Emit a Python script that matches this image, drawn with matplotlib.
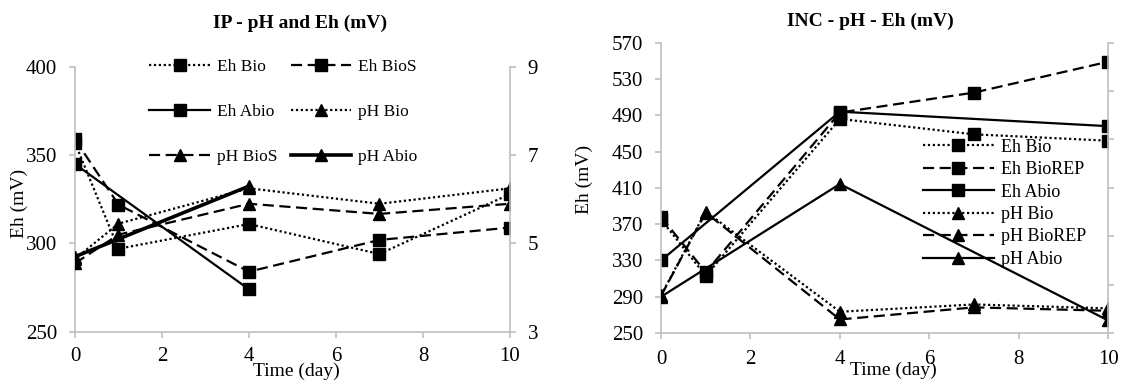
import numpy as np
import matplotlib
matplotlib.use("Agg")
import matplotlib.pyplot as plt

plt.rcParams['font.family'] = ['Liberation Serif', 'DejaVu Serif']

# IP chart data
ip_days = [0, 1, 4, 7, 10]
ip_abio_days = [0, 4]
ip_eh_bio = [357, 297, 311, 294, 328]
ip_eh_bios = [359, 322, 284, 302, 309]
ip_eh_abio = [345, 274]
ip_ph_bio = [4.65, 5.45, 6.25, 5.9, 6.25]
ip_ph_bios = [4.55, 5.2, 5.9, 5.67, 5.9]
ip_ph_abio = [4.7, 6.3]

# INC chart data
inc_days = [0, 1, 4, 7, 10]
inc_abio_days = [0, 4, 10]
inc_eh_bio = [375, 313, 486, 469, 462]
inc_eh_biorep = [378, 317, 493, 515, 549]
inc_eh_abio = [330, 494, 478]
inc_ph_bio = [3.78, 5.51, 3.44, 3.59, 3.51]
inc_ph_biorep = [3.77, 5.49, 3.28, 3.53, 3.46]
inc_ph_abio = [3.75, 6.08, 3.26]

GRAY = '#bfbfbf'
DOT = (0, (1, 1.2))
DASH = (0, (5, 2.5))

fig = plt.figure(figsize=(11.21, 3.83), dpi=100)


def style_axes(ax, ax2):
    for a in (ax, ax2):
        a.spines['top'].set_visible(False)
        for s in ('left', 'right', 'bottom'):
            a.spines[s].set_color(GRAY)
            a.spines[s].set_linewidth(1.2)
        a.tick_params(colors=GRAY, labelcolor='black', labelsize=15,
                      length=4.3, width=1.2, pad=8.5)
    ax2.spines['left'].set_visible(False)
    ax2.spines['bottom'].set_visible(False)
    ax.spines['right'].set_visible(False)


# ---- left chart
ax = fig.add_axes([0.0669, 0.134, 0.388, 0.691])
ax2 = ax.twinx()
style_axes(ax, ax2)
ax.set_xlim(0, 10)
ax.set_ylim(250, 400)
ax.set_yticks([250, 300, 350, 400])
ax.set_xticks([0, 2, 4, 6, 8, 10])
ax.tick_params(axis='x', pad=7)
ax2.set_ylim(3, 9)
ax2.set_yticks([3, 5, 7, 9])

ms = 8.5
h1, = ax.plot(ip_days, ip_eh_bio, color='k', ls=DOT, lw=1.6, marker='s', ms=ms, label='Eh Bio')
h2, = ax.plot(ip_days, ip_eh_bios, color='k', ls=DASH, lw=1.6, marker='s', ms=ms, label='Eh BioS')
h3, = ax.plot(ip_abio_days, ip_eh_abio, color='k', ls='-', lw=1.6, marker='s', ms=ms, label='Eh Abio')
h4, = ax2.plot(ip_days, ip_ph_bio, color='k', ls=DOT, lw=1.6, marker='^', ms=ms, label='pH Bio')
h5, = ax2.plot(ip_days, ip_ph_bios, color='k', ls=DASH, lw=1.6, marker='^', ms=ms, label='pH BioS')
h6, = ax2.plot(ip_abio_days, ip_ph_abio, color='k', ls='-', lw=2.6, marker='^', ms=ms, label='pH Abio')

ax.set_xlabel('Time (day)', fontsize=14)
ax.xaxis.set_label_coords(0.51, -0.118)
ax.set_ylabel('Eh (mV)', fontsize=14)
ax.yaxis.set_label_coords(-0.108, 0.486)

handles = [h1, h3, h5, h2, h4, h6]
ax.legend(handles, [h.get_label() for h in handles], ncol=2, loc='upper left',
          bbox_to_anchor=(0.135, 1.09), frameon=False, fontsize=12.5,
          handlelength=3.5, labelspacing=1.65, columnspacing=0.75,
          handletextpad=0.4, numpoints=1)
fig.text(0.2676, 0.94, 'IP - pH and Eh (mV)', ha='center', va='center',
         fontsize=14, fontweight='bold')

# ---- right chart
bx = fig.add_axes([0.5897, 0.1305, 0.3988, 0.758])
bx2 = bx.twinx()
style_axes(bx, bx2)
bx.set_xlim(0, 10)
bx.set_ylim(250, 570)
bx.set_yticks(np.arange(250, 571, 40))
bx.set_xticks([0, 2, 4, 6, 8, 10])
bx.tick_params(axis='x', pad=8)
bx2.set_ylim(3, 9)
bx2.set_yticks(np.arange(3, 10, 1))
bx2.tick_params(labelright=False)

g1, = bx.plot(inc_days, inc_eh_bio, color='k', ls=DOT, lw=1.6, marker='s', ms=9, label='Eh Bio')
g2, = bx.plot(inc_days, inc_eh_biorep, color='k', ls=DASH, lw=1.6, marker='s', ms=9, label='Eh BioREP')
g3, = bx.plot(inc_abio_days, inc_eh_abio, color='k', ls='-', lw=1.6, marker='s', ms=9, label='Eh Abio')
g4, = bx2.plot(inc_days, inc_ph_bio, color='k', ls=DOT, lw=1.6, marker='^', ms=9, label='pH Bio')
g5, = bx2.plot(inc_days, inc_ph_biorep, color='k', ls=DASH, lw=1.6, marker='^', ms=9, label='pH BioREP')
g6, = bx2.plot(inc_abio_days, inc_ph_abio, color='k', ls='-', lw=1.6, marker='^', ms=9, label='pH Abio')

bx.set_xlabel('Time (day)', fontsize=14)
bx.xaxis.set_label_coords(0.519, -0.1)
bx.set_ylabel('Eh (mV)', fontsize=14)
bx.yaxis.set_label_coords(-0.152, 0.53)

handles = [g1, g2, g3, g4, g5, g6]
bx2.legend(handles, [h.get_label() for h in handles], loc='upper left',
           bbox_to_anchor=(0.55, 0.725), frameon=False, fontsize=13,
           handlelength=3.9, labelspacing=0.3, handletextpad=0.4, numpoints=1)
fig.text(0.776, 0.945, 'INC - pH - Eh (mV)', ha='center', va='center',
         fontsize=14, fontweight='bold')

fig.savefig('out.png', dpi=100)
